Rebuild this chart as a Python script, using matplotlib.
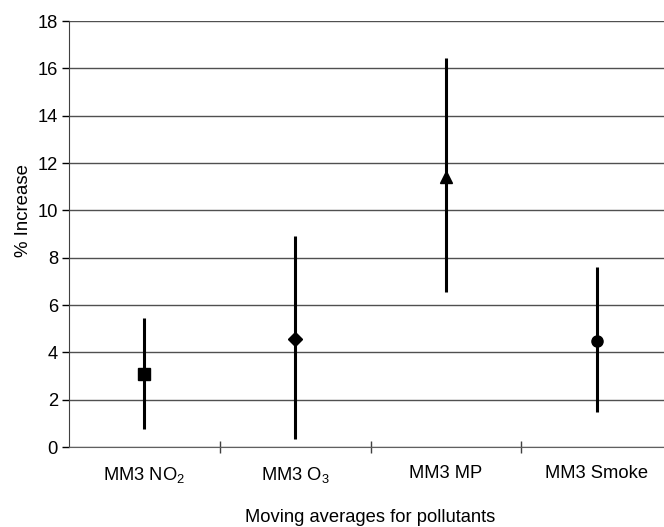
import matplotlib
matplotlib.use("Agg")
import matplotlib.pyplot as plt

# values (% increase with 95% interval)
labels = ["MM3 NO$_2$", "MM3 O$_3$", "MM3 MP", "MM3 Smoke"]
estimate = [3.1, 4.55, 11.4, 4.5]
lower = [0.75, 0.35, 6.55, 1.5]
upper = [5.45, 8.9, 16.45, 7.6]
markers = ["s", "D", "^", "o"]
msizes = [8, 7, 9, 8]

y_ticks = list(range(0, 19, 2))

plt.rcParams["font.family"] = ["Liberation Sans", "DejaVu Sans"]
plt.rcParams["mathtext.fontset"] = "custom"
plt.rcParams["mathtext.rm"] = "Liberation Sans"
plt.rcParams["mathtext.it"] = "Liberation Sans"

fig = plt.figure(figsize=(6.64, 5.27), dpi=100)
# the plot runs past the right edge of the image, as in the original
ax = fig.add_axes([69 / 664, 80 / 527, 603 / 664, 426 / 527])

for i, (est, lo, hi) in enumerate(zip(estimate, lower, upper)):
    ax.vlines(i, lo, hi, color="black", lw=2.2, zorder=3)
    ax.plot(i, est, marker=markers[i], ms=msizes[i], color="black",
            ls="none", zorder=4)

ax.set_xlim(-0.5, 3.5)
ax.set_ylim(0, 18)
ax.set_yticks(y_ticks)
ax.set_xticks(range(len(labels)))
ax.set_xticklabels(labels, fontsize=13.2)
ax.set_xticks([0.5, 1.5, 2.5], minor=True)
ax.tick_params(axis="x", which="major", length=0, pad=13)
ax.tick_params(axis="x", which="minor", length=8, direction="inout",
               color="#404040", width=1)
ax.tick_params(axis="y", length=5, direction="out", color="black",
               width=1, labelsize=13.2, pad=3)

ax.grid(axis="y", color="#505050", lw=1)
ax.set_axisbelow(True)
for side in ["top", "right"]:
    ax.spines[side].set_visible(False)
ax.spines["left"].set_color("#404040")
ax.spines["bottom"].set_color("#606060")

ax.set_ylabel("% Increase", fontsize=13.4)
ax.yaxis.set_label_coords(-0.062, 0.556)
ax.set_xlabel("Moving averages for pollutants", fontsize=13.2)
ax.xaxis.set_label_coords(0.5, -0.146)

fig.savefig("out.png", dpi=100, facecolor="white")
